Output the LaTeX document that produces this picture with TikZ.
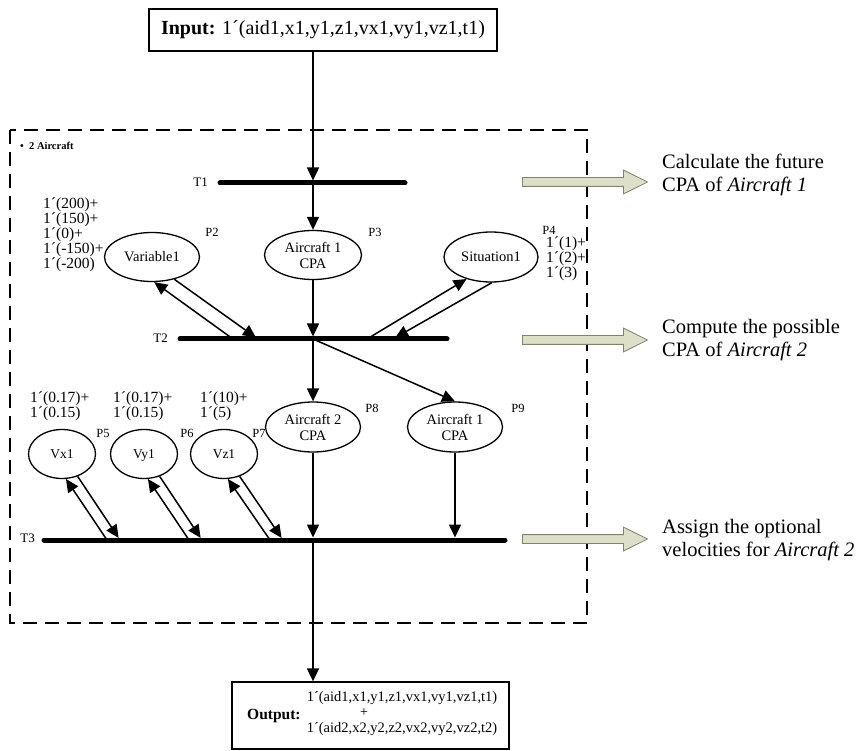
\documentclass[tikz,border=0pt]{standalone}
\usepackage{fontspec}
\setmainfont{Liberation Serif}
\usetikzlibrary{arrows.meta,shapes.geometric,shapes.arrows}

\definecolor{hintfill}{HTML}{DDDFC9}
\definecolor{hintdraw}{HTML}{80846F}

\tikzset{
  place/.style={draw, ellipse, line width=1.3pt, minimum width=95pt, minimum height=49pt,
    inner sep=0pt, align=center, font=\fontsize{14.5}{16}\selectfont},
  smallplace/.style={place, minimum width=67pt, text depth=0pt, font=\fontsize{13.5}{14}\selectfont},
  flow/.style={line width=1.5pt, -{Triangle[length=13pt,width=12pt]}},
  bar/.style={line width=5pt, line cap=round},
  plabel/.style={font=\fontsize{12.5}{12}\selectfont, inner sep=0pt},
  tlabel/.style={font=\fontsize{13}{12}\selectfont, inner sep=0pt, anchor=east},
  tokens/.style={font=\fontsize{15.5}{12}\selectfont, align=left, inner sep=0pt, anchor=west},
  note/.style={font=\fontsize{20.5}{23}\selectfont, align=left, anchor=west, inner sep=0pt},
  hint/.style={single arrow, draw=hintdraw, fill=hintfill, line width=0.8pt,
    minimum height=125pt, minimum width=23pt, inner sep=4pt,
    single arrow head extend=7.5pt, single arrow tip angle=53},
  framebox/.style={draw, line width=1.3pt, inner sep=0pt},
}

\begin{document}
\begin{tikzpicture}[x=1pt,y=-1pt]
\useasboundingbox (0,0) rectangle (865,751);

% input and output boxes
\node[framebox, minimum width=348pt, minimum height=42pt,
  font=\fontsize{20}{22}\selectfont] (input) at (323,30)
  {\textbf{Input:} 1´(aid1,x1,y1,z1,vx1,vy1,vz1,t1)};
\node[framebox, minimum width=277pt, minimum height=67pt] (output) at (370.5,715.5) {};
\node[anchor=west, inner sep=0pt, font=\fontsize{15.5}{16}\selectfont\bfseries] (outlabel) at (247,716) {Output:};
\node[inner sep=0pt, font=\fontsize{14.5}{15}\selectfont] (outa) at (402,698) {1´(aid1,x1,y1,z1,vx1,vy1,vz1,t1)};
\node[inner sep=0pt, font=\fontsize{14}{15}\selectfont] (outplus) at (364,713) {+};
\node[inner sep=0pt, font=\fontsize{14.5}{15}\selectfont] (outb) at (402,729) {1´(aid2,x2,y2,z2,vx2,vy2,vz2,t2)};

% dashed frame of the two-aircraft net
\draw[line width=1.5pt, dash pattern=on 14pt off 8pt] (10,130) rectangle (587,623);
\node[anchor=west, inner sep=0pt, font=\fontsize{10.5}{10}\selectfont\bfseries] (frametitle) at (20,146) {•\ \ 2 Aircraft};

% transitions
\coordinate (t1l) at (220,183); \coordinate (t1r) at (405,183); \coordinate (t1) at (313,183);
\coordinate (t2l) at (180,339); \coordinate (t2r) at (447,339); \coordinate (t2) at (313,339);
\coordinate (t3l) at (44,540);  \coordinate (t3r) at (505,540); \coordinate (t3) at (313,540);
\draw[bar] (t1l) -- (t1r);
\draw[bar] (t2l) -- (t2r);
\draw[bar] (t3l) -- (t3r);
\node[tlabel] (t1name) at (208,182) {T1};
\node[tlabel] (t2name) at (168,338) {T2};
\node[tlabel] (t3name) at (35,538) {T3};

% places
\node[place] (var1) at (152,257) {Variable1};
\node[place, minimum width=97pt] (p3) at (313,255) {Aircraft 1\\CPA};
\node[place, minimum width=94pt, minimum height=50pt] (sit1) at (491,257) {Situation1};
\node[place, minimum height=50pt] (p8) at (313,427) {Aircraft 2\\CPA};
\node[place, minimum height=50pt] (p9) at (455,427) {Aircraft 1\\CPA};
\node[smallplace] (vx1) at (62,454) {Vx1};
\node[smallplace] (vy1) at (144,454) {Vy1};
\node[smallplace] (vz1) at (224,454) {Vz1};

% place names
\node[plabel] (n2) at (212,232) {P2};
\node[plabel] (n3) at (375,232) {P3};
\node[plabel] (n4) at (549,230) {P4};
\node[plabel] (n5) at (103,433) {P5};
\node[plabel] (n6) at (187,433) {P6};
\node[plabel] (n7) at (259,433) {P7};
\node[plabel] (n8) at (372,408) {P8};
\node[plabel] (n9) at (518,408) {P9};

% initial markings
\node[tokens] (m2) at (43,235) {1´(200)+\\1´(150)+\\1´(0)+\\1´(-150)+\\1´(-200)};
\node[tokens] (m4) at (546,259) {1´(1)+\\1´(2)+\\1´(3)};
\node[tokens] (m5) at (30,406) {1´(0.17)+\\1´(0.15)};
\node[tokens] (m6) at (113,406) {1´(0.17)+\\1´(0.15)};
\node[tokens] (m7) at (200,406) {1´(10)+\\1´(5)};

% main flow
\draw[flow, shorten >=2.5pt] (input.south -| t1) -- (t1);
\draw[flow] (t1) -- (p3.north);
\draw[flow, shorten >=2.5pt] (p3.south) -- (t2);
\draw[flow] (t2) -- (p8.north);
\draw[flow] (t2) -- (p9.north);
\draw[flow, shorten >=2.5pt] (p8.south) -- (t3);
\coordinate (t3b) at (455,540);
\draw[flow, shorten >=2.5pt] (p9.south) -- (t3b);
\draw[flow] (t3) -- (output.north -| t3);

% read / write arcs between T2 and its side places
\coordinate (a1) at (258,339); \coordinate (a2) at (233,339);
\draw[flow, shorten >=2.5pt] (var1.-45) -- (a1);
\draw[flow] (a2) -- (var1.-85);
\coordinate (a3) at (367,339); \coordinate (a4) at (393,339);
\draw[flow] (a3) -- (sit1.-138);
\draw[flow, shorten >=2.5pt] (sit1.-88) -- (a4);

% read / write arcs between T3 and the velocity places
\coordinate (b1) at (107,540); \coordinate (b2) at (120,540);
\coordinate (b3) at (189,540); \coordinate (b4) at (202,540);
\coordinate (b5) at (270,540); \coordinate (b6) at (283,540);
\draw[flow] (b1) -- (vx1.-81);
\draw[flow, shorten >=2.5pt] (vx1.-55) -- (b2);
\draw[flow] (b3) -- (vy1.-81);
\draw[flow, shorten >=2.5pt] (vy1.-55) -- (b4);
\draw[flow] (b5) -- (vz1.-81);
\draw[flow, shorten >=2.5pt] (vz1.-55) -- (b6);

% step descriptions
\node[hint] (h1) at (580.5,182) {};
\node[hint] (h2) at (580.5,340) {};
\node[hint] (h3) at (580.5,539) {};
\node[note] (d1) at (662,174.5) {Calculate the future\\CPA of \textit{Aircraft 1}};
\node[note] (d2) at (662,340.5) {Compute the possible\\CPA of \textit{Aircraft 2}};
\node[note] (d3) at (662,540.5) {Assign the optional\\velocities for \textit{Aircraft 2}};
\end{tikzpicture}
\end{document}
